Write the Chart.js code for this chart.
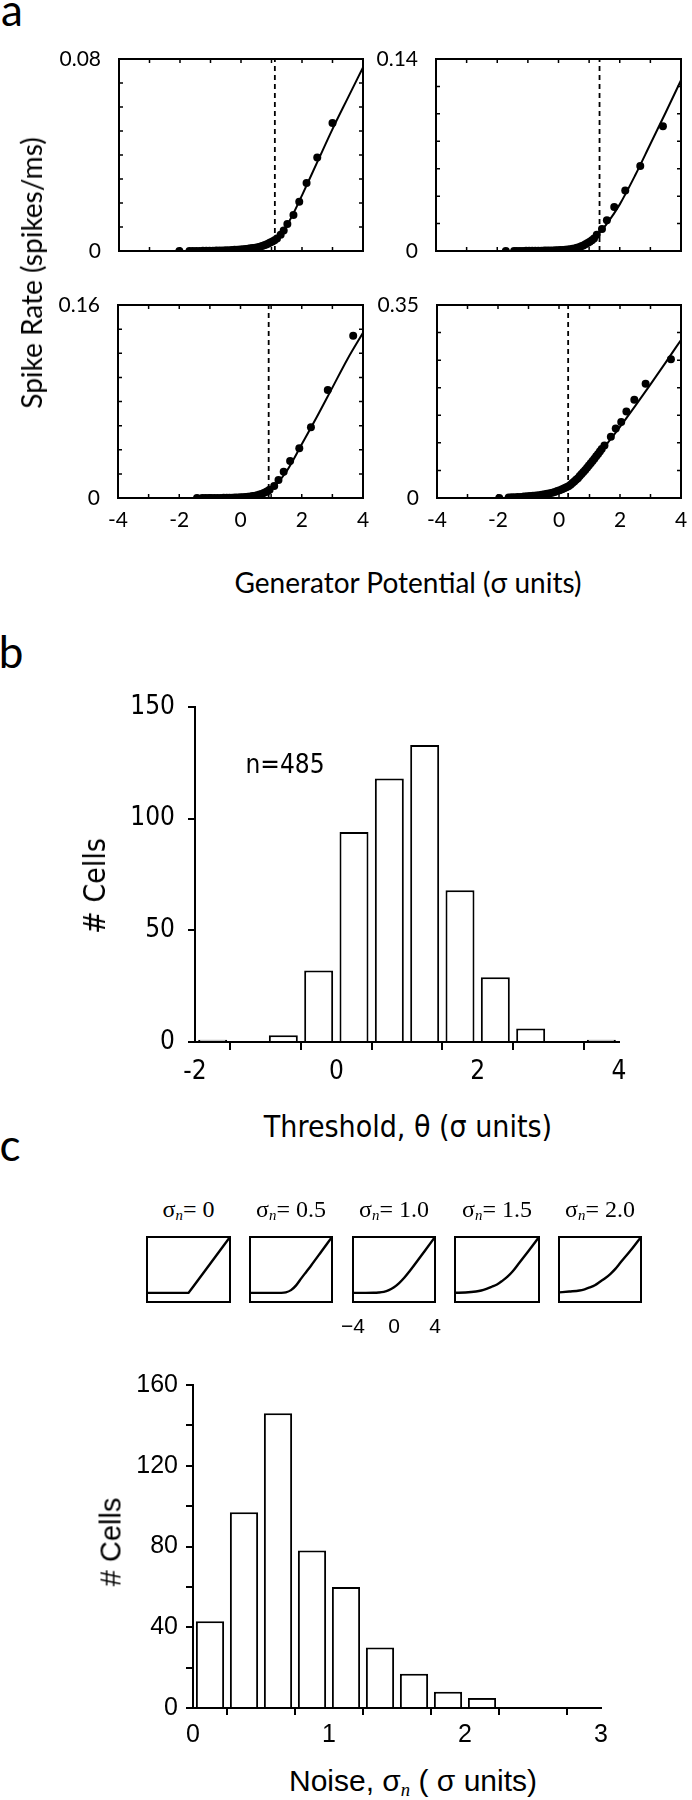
<!DOCTYPE html>
<html>
<head>
<meta charset="utf-8">
<script src="https://cdn.jsdelivr.net/npm/chart.js@4.4.1/dist/chart.umd.min.js"></script>
<style>
body { margin: 0; background: #fff; }
#page { position: relative; width: 692px; height: 1800px; overflow: hidden; color: #000; }
canvas { position: absolute; }
.t { position: absolute; white-space: nowrap; line-height: 1; }
.sub { font-family: 'Liberation Serif', serif; font-style: italic; font-size: 0.62em; vertical-align: -0.25em; }
</style>
</head>
<body>
<div id="page"></div>
<script>
// ---- panel a: spike rate vs generator potential (4 cells) ----
const yMax = [0.08, 0.14, 0.16, 0.35];
const yMaxLabels = ['0.08', '0.14', '0.16', '0.35'];
const yStep = [0.01, 0.02, 0.02, 0.05];
const thresholds = [1.11, 1.34, 0.92, 0.30];
const xTicksA = [-4, -2, 0, 2, 4];

const dotX1 = [-2.02, -1.69, -1.58, -1.47, -1.36, -1.25, -1.14, -1.03, -0.92, -0.81, -0.70, -0.60, -0.50, -0.40, -0.30, -0.21, -0.12, -0.03, 0.06, 0.15, 0.23, 0.31, 0.39, 0.47, 0.55, 0.62, 0.69, 0.76, 0.83, 0.90, 0.96, 1.03, 1.10, 1.18, 1.30, 1.40, 1.52, 1.72, 1.91, 2.15, 2.50, 3.00];
const dotY1 = [0, 0, 0, 0, 0, 0.0001, 0.0001, 0.0001, 0.0001, 0.0002, 0.0002, 0.0002, 0.0003, 0.0003, 0.0004, 0.0005, 0.0005, 0.0006, 0.0007, 0.0008, 0.0009, 0.0011, 0.0012, 0.0014, 0.0016, 0.0018, 0.0021, 0.0024, 0.0027, 0.0031, 0.0035, 0.0040, 0.0045, 0.0052, 0.0068, 0.0085, 0.0112, 0.0150, 0.0205, 0.0283, 0.0390, 0.0533];
const lineX1 = [-1.7, -1, -0.5, 0, 0.4, 0.8, 1.1, 1.3, 1.5, 1.75, 2.0, 2.5, 3.0, 3.5, 4.0];
const lineY1 = [0, 0.0002, 0.0003, 0.0006, 0.0011, 0.0025, 0.0045, 0.0068, 0.0105, 0.0165, 0.0232, 0.037, 0.0508, 0.0637, 0.0765];

const dotX2 = [-1.72, -1.45, -1.36, -1.26, -1.16, -1.06, -0.96, -0.86, -0.76, -0.66, -0.56, -0.46, -0.37, -0.28, -0.19, -0.10, -0.02, 0.06, 0.14, 0.22, 0.30, 0.38, 0.46, 0.53, 0.60, 0.67, 0.74, 0.81, 0.88, 0.95, 1.02, 1.09, 1.16, 1.25, 1.42, 1.58, 1.82, 2.18, 2.67, 3.41];
const dotY2 = [0, 0, 0, 0, 0, 0.0001, 0.0001, 0.0001, 0.0002, 0.0002, 0.0002, 0.0003, 0.0003, 0.0004, 0.0004, 0.0005, 0.0006, 0.0007, 0.0008, 0.0009, 0.0011, 0.0013, 0.0016, 0.0019, 0.0023, 0.0028, 0.0034, 0.0041, 0.0049, 0.0058, 0.0068, 0.0079, 0.0091, 0.0119, 0.0160, 0.0224, 0.0320, 0.0442, 0.0620, 0.0910];
const lineX2 = [-1.7, -1, -0.5, 0, 0.5, 0.8, 1.0, 1.34, 1.6, 2.0, 2.5, 3.0, 3.5, 4.0];
const lineY2 = [0, 0.0002, 0.0003, 0.0006, 0.0025, 0.005, 0.008, 0.0135, 0.0205, 0.034, 0.055, 0.078, 0.101, 0.1245];

const dotX3 = [-1.42, -1.25, -1.15, -1.05, -0.95, -0.85, -0.75, -0.65, -0.55, -0.45, -0.36, -0.27, -0.18, -0.09, 0.0, 0.08, 0.16, 0.24, 0.32, 0.40, 0.48, 0.55, 0.62, 0.69, 0.76, 0.83, 0.89, 0.95, 1.10, 1.24, 1.41, 1.62, 1.92, 2.30, 2.85, 3.68];
const dotY3 = [0, 0, 0, 0, 0, 0.0001, 0.0001, 0.0001, 0.0002, 0.0002, 0.0003, 0.0003, 0.0004, 0.0005, 0.0006, 0.0007, 0.0009, 0.0011, 0.0013, 0.0016, 0.0019, 0.0023, 0.0028, 0.0034, 0.0041, 0.0049, 0.0058, 0.0068, 0.0100, 0.0149, 0.0218, 0.0307, 0.0412, 0.0586, 0.0895, 0.1345];
const lineX3 = [-1.4, -0.5, 0, 0.4, 0.7, 0.92, 1.2, 1.5, 2.0, 2.5, 3.0, 3.5, 4.0];
const lineY3 = [0, 0.0002, 0.0007, 0.0018, 0.0038, 0.0065, 0.0125, 0.022, 0.0445, 0.0675, 0.0915, 0.1155, 0.137];

const dotX4 = [-1.96, -1.65, -1.55, -1.45, -1.35, -1.25, -1.15, -1.05, -0.95, -0.85, -0.75, -0.66, -0.57, -0.48, -0.39, -0.30, -0.22, -0.14, -0.06, 0.02, 0.10, 0.17, 0.24, 0.31, 0.38, 0.44, 0.50, 0.56, 0.62, 0.68, 0.74, 0.80, 0.86, 0.92, 0.98, 1.04, 1.10, 1.16, 1.22, 1.28, 1.34, 1.40, 1.49, 1.70, 1.86, 2.04, 2.21, 2.47, 2.84, 3.67];
const dotY4 = [0, 0.001, 0.0012, 0.0015, 0.0018, 0.002, 0.0025, 0.003, 0.0035, 0.004, 0.0045, 0.005, 0.0058, 0.0066, 0.0075, 0.0085, 0.0095, 0.011, 0.0125, 0.014, 0.0158, 0.0175, 0.0195, 0.0215, 0.024, 0.027, 0.030, 0.033, 0.036, 0.040, 0.0435, 0.047, 0.051, 0.055, 0.059, 0.063, 0.067, 0.071, 0.0755, 0.080, 0.0845, 0.089, 0.095, 0.111, 0.126, 0.138, 0.157, 0.178, 0.207, 0.2515];
const lineX4 = [-2, -1, -0.5, 0, 0.3, 0.6, 1.0, 1.5, 2.0, 2.5, 3.0, 3.5, 4.0];
const lineY4 = [0, 0.002, 0.005, 0.012, 0.019, 0.032, 0.057, 0.093, 0.129, 0.167, 0.206, 0.246, 0.2866];

const dotXs = [dotX1, dotX2, dotX3, dotX4];
const dotYs = [dotY1, dotY2, dotY3, dotY4];
const lineXs = [lineX1, lineX2, lineX3, lineX4];
const lineYs = [lineY1, lineY2, lineY3, lineY4];

// ---- panel b: threshold histogram ----
const thetaBins = [-1.75, -0.75, -0.25, 0.25, 0.75, 1.25, 1.75, 2.25, 2.75, 3.75];
const thetaCounts = [1, 3, 32, 94, 118, 133, 68, 29, 6, 1];

// ---- panel c: noise model curves and noise histogram ----
const noiseLevels = ['0', '0.5', '1.0', '1.5', '2.0'];
const miniX = [-4, -3, -2, -1.5, -1, -0.5, 0, 0.5, 1, 1.5, 2, 3, 4];
const miniY = [
  [0, 0, 0, 0, 0, 0, 0, 0.5, 1, 1.5, 2, 3, 4],
  [0, 0, 0, 0, 0.004, 0.04, 0.2, 0.54, 1.04, 1.52, 2.0, 3.0, 4.0],
  [0, 0.003, 0.01, 0.03, 0.08, 0.2, 0.4, 0.7, 1.08, 1.53, 2.01, 3.0, 4.0],
  [0.01, 0.03, 0.1, 0.17, 0.29, 0.44, 0.6, 0.86, 1.16, 1.55, 2.03, 3.0, 4.0],
  [0.04, 0.1, 0.17, 0.26, 0.39, 0.55, 0.8, 1.05, 1.35, 1.72, 2.17, 3.05, 4.0]
];
const noiseBins = [0.125, 0.375, 0.625, 0.875, 1.125, 1.375, 1.625, 1.875, 2.125];
const noiseCounts = [43, 97, 146, 78, 60, 30, 17, 8, 5];

Chart.defaults.color = '#000';
Chart.defaults.font.family = 'Lato';
Chart.defaults.animation = false;
Chart.defaults.events = [];
Chart.defaults.plugins.legend.display = false;
Chart.defaults.plugins.tooltip.enabled = false;

const page = document.getElementById('page');
const zip = (xs, ys) => xs.map((x, i) => ({ x: x, y: ys[i] }));

function makeCtx(left, top, w, h) {
  const c = document.createElement('canvas');
  c.width = w;
  c.height = h;
  c.style.left = left + 'px';
  c.style.top = top + 'px';
  page.appendChild(c);
  return c.getContext('2d');
}

function label(html, x, y, size, family, rotate) {
  const d = document.createElement('div');
  d.className = 't';
  d.innerHTML = html;
  d.style.left = x + 'px';
  d.style.top = y + 'px';
  d.style.fontSize = size + 'px';
  d.style.fontFamily = family;
  d.style.transform = 'translate(-50%,-50%)' + (rotate ? ' rotate(-90deg)' : '');
  page.appendChild(d);
}

// frame around the plot area, with optional inward tick marks
const boxPlugin = {
  id: 'boxTicks',
  afterDatasetsDraw(chart, args, opts) {
    const ctx = chart.ctx, a = chart.chartArea;
    ctx.save();
    ctx.strokeStyle = '#000';
    if (opts.ticks) {
      ctx.lineWidth = 1.5;
      ctx.beginPath();
      chart.scales.x.ticks.forEach(t => {
        const px = chart.scales.x.getPixelForValue(t.value);
        ctx.moveTo(px, a.bottom); ctx.lineTo(px, a.bottom - opts.ticks);
        ctx.moveTo(px, a.top); ctx.lineTo(px, a.top + opts.ticks);
      });
      chart.scales.y.ticks.forEach(t => {
        const py = chart.scales.y.getPixelForValue(t.value);
        ctx.moveTo(a.left, py); ctx.lineTo(a.left + opts.ticks, py);
        ctx.moveTo(a.right, py); ctx.lineTo(a.right - opts.ticks, py);
      });
      ctx.stroke();
    }
    ctx.lineWidth = opts.width || 2;
    ctx.strokeRect(a.left, a.top, a.right - a.left, a.bottom - a.top);
    ctx.restore();
  }
};

// ---- panel a ----
// canvas [left, top, width, height], y-axis width, x-axis height
const ratePanels = [
  { box: [30, 33, 343, 244], yW: 89, xH: 26, showX: false },
  { box: [376, 33, 315, 244], yW: 60, xH: 26, showX: false },
  { box: [30, 279, 343, 259], yW: 88, xH: 40, showX: true },
  { box: [376, 279, 315, 259], yW: 61, xH: 40, showX: true }
];

ratePanels.forEach((p, i) => {
  const ctx = makeCtx(p.box[0], p.box[1], p.box[2], p.box[3]);
  new Chart(ctx, {
    type: 'scatter',
    data: {
      datasets: [
        { data: zip(dotXs[i], dotYs[i]), backgroundColor: '#000', borderWidth: 0, pointRadius: 4 },
        { type: 'line', data: zip(lineXs[i], lineYs[i]), borderColor: '#000', borderWidth: 2, pointRadius: 0, cubicInterpolationMode: 'monotone' },
        { type: 'line', data: [{ x: thresholds[i], y: 0 }, { x: thresholds[i], y: yMax[i] }], borderColor: '#000', borderWidth: 1.8, borderDash: [5, 4], pointRadius: 0 }
      ]
    },
    options: {
      responsive: false,
      layout: { padding: { top: 26, right: 10, left: 0, bottom: 0 } },
      scales: {
        x: {
          min: -4, max: 4,
          grid: { display: false }, border: { display: false },
          ticks: {
            display: p.showX, stepSize: 1, padding: 2, maxRotation: 0, autoSkip: false,
            font: { size: 21 },
            callback: v => xTicksA.includes(v) ? String(v) : ''
          },
          afterFit: s => { s.height = p.xH; }
        },
        y: {
          min: 0, max: yMax[i],
          grid: { display: false }, border: { display: false },
          ticks: {
            stepSize: yStep[i], padding: 10, autoSkip: false,
            font: { size: 21 },
            callback: (v, idx, arr) => idx === 0 ? '0' : (idx === arr.length - 1 ? yMaxLabels[i] : '')
          },
          afterFit: s => { s.width = p.yW; }
        }
      },
      plugins: { boxTicks: { ticks: 4, width: 2 } }
    },
    plugins: [boxPlugin]
  });
});

label('a', 12, 9, 44, 'Lato');
label('Spike Rate (spikes/ms)', 31, 273, 28, 'Lato', true);
label('Generator Potential (σ units)', 408, 582, 28, 'Lato');

// ---- panel b ----
const condensed = "'Liberation Sans Narrow', 'DejaVu Sans Condensed', 'Open Sans', sans-serif";
new Chart(makeCtx(0, 677, 692, 423), {
  type: 'bar',
  data: {
    datasets: [{
      data: zip(thetaBins, thetaCounts),
      backgroundColor: '#fff', borderColor: '#000', borderWidth: 2,
      barPercentage: 0.82, categoryPercentage: 1
    }]
  },
  options: {
    responsive: false,
    layout: { padding: { top: 30, right: 73, left: 0, bottom: 0 } },
    scales: {
      x: {
        type: 'linear', min: -2, max: 4, offset: false,
        grid: { display: true, drawOnChartArea: false, tickLength: 8, color: '#000', lineWidth: 2, z: 1 },
        border: { color: '#000', width: 2, z: 1 },
        ticks: { stepSize: 1, padding: 7, maxRotation: 0, autoSkip: false, font: { family: condensed, size: 26 },
          callback: v => (v % 2 === 0 ? String(v) : '') },
        afterFit: s => { s.height = 58; }
      },
      y: {
        min: 0, max: 150,
        grid: { display: true, drawOnChartArea: false, tickLength: 7, color: '#000', lineWidth: 2, z: 1 },
        border: { color: '#000', width: 2, z: 1 },
        ticks: { stepSize: 50, padding: 13, font: { family: condensed, size: 26 } },
        afterFit: s => { s.width = 195; }
      }
    }
  }
});

label('b', 11, 651, 44, 'Lato');
label('n=485', 285, 764, 26, condensed);
label('# Cells', 95, 886, 30, condensed, true);
label('Threshold, θ (σ units)', 408, 1127, 30, condensed);

// ---- panel c: model curves ----
const miniBoxes = [[147, 83], [250, 82], [353, 82], [455, 84], [559, 82]];
miniBoxes.forEach((b, i) => {
  const ctx = makeCtx(b[0] - 20, 1232, b[1] + 40, 108);
  new Chart(ctx, {
    type: 'line',
    data: {
      datasets: [{
        data: zip(miniX, miniY[i]), borderColor: '#000', borderWidth: 2.4, pointRadius: 0,
        cubicInterpolationMode: i === 0 ? 'default' : 'monotone', tension: 0
      }]
    },
    options: {
      responsive: false,
      layout: { padding: { top: 5, left: 20, right: 20, bottom: 0 } },
      scales: {
        x: {
          type: 'linear', min: -4, max: 4,
          grid: { display: false }, border: { display: false },
          ticks: { display: i === 2, stepSize: 4, padding: 5, maxRotation: 0,
            font: { family: 'Liberation Sans', size: 21 },
            callback: v => String(v).replace('-', '\u2212') },
          afterFit: s => { s.height = 38; }
        },
        y: { display: false, min: -0.65, max: 4 }
      },
      plugins: { boxTicks: { width: 2 } }
    },
    plugins: [boxPlugin]
  });
  label('σ<span class="sub">n</span>= ' + noiseLevels[i], b[0] + b[1] / 2, 1210, 24, "'Liberation Serif', serif");
});

label('c', 10, 1144, 44, 'Lato');

// ---- panel c: noise histogram ----
const arial = "'Liberation Sans', Arial, sans-serif";
new Chart(makeCtx(0, 1360, 692, 400), {
  type: 'bar',
  data: {
    datasets: [{
      data: zip(noiseBins, noiseCounts),
      backgroundColor: '#fff', borderColor: '#000', borderWidth: 2,
      barPercentage: 0.83, categoryPercentage: 1
    }]
  },
  options: {
    responsive: false,
    layout: { padding: { top: 25, right: 91, left: 0, bottom: 0 } },
    scales: {
      x: {
        type: 'linear', min: 0, max: 3, offset: false,
        grid: { display: true, drawOnChartArea: false, tickLength: 7, color: '#000', lineWidth: 2, z: 1 },
        border: { color: '#000', width: 2, z: 1 },
        ticks: { stepSize: 0.5, padding: 5, maxRotation: 0, autoSkip: false, font: { family: arial, size: 25 },
          callback: v => (Number.isInteger(v) ? String(v) : '') },
        afterFit: s => { s.height = 52; }
      },
      y: {
        min: 0, max: 160,
        grid: { display: true, drawOnChartArea: false, tickLength: 7, color: '#000', lineWidth: 2, z: 1 },
        border: { color: '#000', width: 2, z: 1 },
        ticks: { stepSize: 20, padding: 8, autoSkip: false, font: { family: arial, size: 25 },
          callback: v => (v % 40 === 0 ? String(v) : '') },
        afterFit: s => { s.width = 193; }
      }
    }
  }
});

label('# Cells', 111, 1542, 29, arial, true);
label('Noise, σ<span class="sub">n</span> ( σ units)', 413, 1783, 30, arial);
</script>
</body>
</html>
